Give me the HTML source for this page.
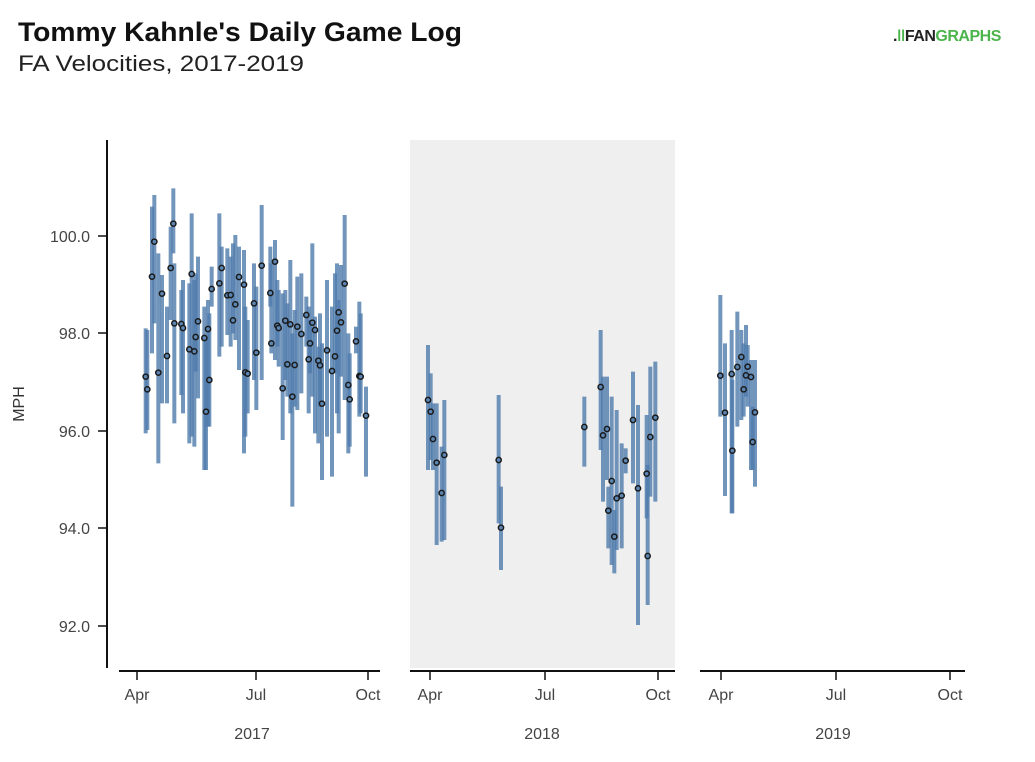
<!DOCTYPE html>
<html><head><meta charset="utf-8"><style>
body{margin:0;background:#fff;}
svg text{font-family:"Liberation Sans",sans-serif;}
</style></head><body>
<svg id="s" width="1035" height="757" xmlns="http://www.w3.org/2000/svg">
<rect width="1035" height="757" fill="#fff"/>
<text x="18" y="41" font-size="27" font-weight="bold" fill="#111" textLength="444" lengthAdjust="spacingAndGlyphs">Tommy Kahnle's Daily Game Log</text>
<text x="18" y="71" font-size="22" fill="#222" textLength="286" lengthAdjust="spacingAndGlyphs">FA Velocities, 2017-2019</text>
<text x="893" y="41" font-size="16" font-weight="bold" fill="#222" letter-spacing="-0.5">.<tspan fill="#4bb54b">ǀǀ</tspan>FAN<tspan fill="#4bb54b">GRAPHS</tspan></text>
<rect x="410" y="140" width="265" height="528" fill="#efefef"/>
<line x1="107" y1="140" x2="107" y2="668" stroke="#111" stroke-width="2"/>
<g font-size="16" fill="#444" text-anchor="end">
<text x="90" y="242">100.0</text><text x="90" y="339">98.0</text><text x="90" y="437">96.0</text><text x="90" y="534">94.0</text><text x="90" y="632">92.0</text>
</g>
<g stroke="#111" stroke-width="1.5">
<line x1="98" y1="236" x2="107" y2="236"/><line x1="98" y1="333" x2="107" y2="333"/><line x1="98" y1="431" x2="107" y2="431"/><line x1="98" y1="528" x2="107" y2="528"/><line x1="98" y1="626" x2="107" y2="626"/>
</g>
<text transform="translate(24,404) rotate(-90)" font-size="16" fill="#333" text-anchor="middle">MPH</text>
<g stroke="#111" stroke-width="2">
<line x1="119" y1="671" x2="380" y2="671"/><line x1="410" y1="671" x2="675" y2="671"/><line x1="700" y1="671" x2="965" y2="671"/>
</g>
<g stroke="#111" stroke-width="1.5" id="ticks"></g>
<g font-size="16" fill="#444" text-anchor="middle" id="tl"></g>
<g id="bars"></g><g id="pts"></g>
</svg>
<script>
var ns="http://www.w3.org/2000/svg";
function el(p,t,a,txt){var e=document.createElementNS(ns,t);for(var k in a)e.setAttribute(k,a[k]);if(txt)e.textContent=txt;document.getElementById(p).appendChild(e);}
var tk=[[137,"Apr"],[256,"Jul"],[368,"Oct"],[430,"Apr"],[545,"Jul"],[658,"Oct"],[721,"Apr"],[836,"Jul"],[950,"Oct"]];
tk.forEach(function(t){el("ticks","line",{x1:t[0],y1:671,x2:t[0],y2:680});el("tl","text",{x:t[0],y:700},t[1]);});
el("tl","text",{x:252,y:739},"2017");el("tl","text",{x:542,y:739},"2018");el("tl","text",{x:833,y:739},"2019");
var z17=[[47,590,445,760],[52,628,450,750],[66,290,80,520],[73,185,45,430],[85,578,220,850],[96,341,285,670],[111,528,380,670],[122,264,140,420],[130,131,25,220],[133,430,250,730],[154,432,330,645],[159,444,300,700],[178,508,310,790],[185,282,100,770],[193,514,300,800],[197,471,280,575],[204,424,230,655],[223,474,380,870],[228,695,470,870],[234,447,360,740],[238,600,400,740],[245,327,260,380],[268,310,100,530],[275,264,200,500],[292,346,205,465],[302,345,230,500],[309,421,190,460],[316,373,165,480],[327,291,200,570],[342,314,210,820],[346,577,380,770],[353,581,420,700],[372,370,250,600],[379,518,320,690],[395,257,75,600],[421,339,200,380],[424,490,250,520],[435,245,180,540],[442,437,300,500],[446,444,330,560],[458,625,340,780],[466,422,330,600],[472,553,370,650],[481,433,240,700],[487,650,460,980],[494,555,390,680],[502,440,290,690],[514,462,280,640],[529,405,350,500],[536,538,380,700],[540,490,420,580],[547,428,190,650],[555,450,410,760],[565,542,500,790],[570,556,400,680],[576,671,490,900],[591,511,300,770],[606,573,380,890],[615,529,280,580],[621,452,250,700],[626,397,360,760],[633,427,255,590],[644,311,105,660],[655,615,460,820],[659,658,520,800],[678,484,440,520],[688,588,365,710],[692,590,400,700],[708,707,620,890]];
var z18=[[54,240,75,450],[62,275,160,420],[69,357,250,450],[80,428,250,675],[95,519,380,665],[103,405,240,660],[266,420,225,610],[273,623,500,750],[523,321,230,440],[572,201,30,390],[579,346,170,545],[591,327,170,480],[605,483,230,735],[595,572,500,685],[613,650,570,760],[620,535,270,690],[635,527,370,685],[647,422,385,460],[669,300,155,490],[684,505,255,915],[710,461,285,595],[713,708,435,855],[721,351,140,530],[736,293,125,545]];
var z19=[[61,287,45,410],[75,398,190,648],[95,282,150,700],[97,512,300,700],[112,261,95,440],[124,231,150,420],[131,328,190,410],[138,286,135,350],[143,260,195,380],[153,291,240,570],[158,486,380,570],[165,397,240,620]];
var all=[];
z17.forEach(function(d){all.push([130+d[0]/3,180+d[1]/3,180+d[2]/3,180+d[3]/3]);});
z18.forEach(function(d){all.push([410+d[0]/3,320+d[1]/3,320+d[2]/3,320+d[3]/3]);});
z19.forEach(function(d){all.push([700+d[0]/3,280+d[1]/3,280+d[2]/3,280+d[3]/3]);});
all.forEach(function(p){el("bars","line",{x1:p[0],y1:p[2],x2:p[0],y2:p[3],stroke:"#4f7bab","stroke-width":4,"stroke-opacity":0.8});});
all.forEach(function(p){el("pts","circle",{cx:p[0],cy:p[1],r:2.6,fill:"#5b86b3",stroke:"#1a1a1a","stroke-width":1.5});});
</script>
</body></html>
